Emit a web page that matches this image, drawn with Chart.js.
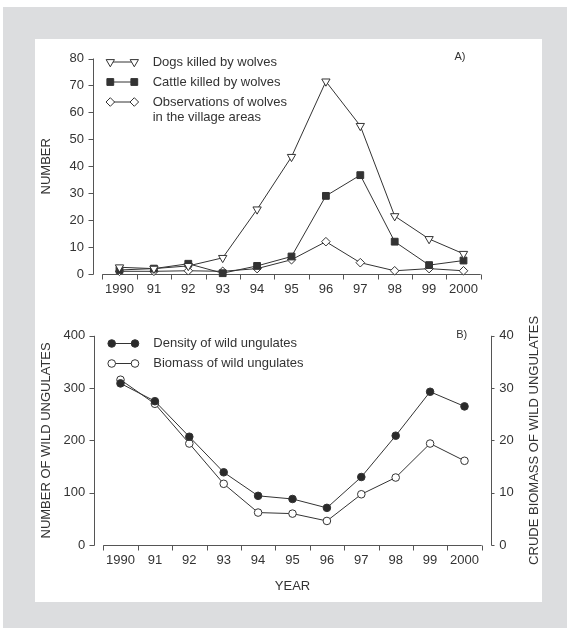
<!DOCTYPE html>
<html>
<head>
<meta charset="utf-8">
<script src="https://cdn.jsdelivr.net/npm/chart.js"></script>
<style>
    body {
        margin: 0;
        width: 567px;
        height: 628px;
        position: relative;
        overflow: hidden;
        background: #fff;
        font-family: "Liberation Sans", Arial, sans-serif;
    }
    .frame {
        position: absolute;
        left: 3px; top: 7px; right: 0; bottom: 0;
        background: #dcdddf;
    }
    .panel {
        position: absolute;
        left: 35px; top: 39px;
        width: 507px; height: 563px;
        background: #fff;
    }
    canvas { position: absolute; left: 0; }
    #top-chart { top: 0; }
    #bottom-chart { top: 310px; }
</style>
</head>
<body>
<div class="frame"></div>
<div class="panel"></div>
<canvas id="top-chart" width="567" height="310"></canvas>
<canvas id="bottom-chart" width="567" height="318"></canvas>

<script>
    // data
    const years = ['1990', '91', '92', '93', '94', '95', '96', '97', '98', '99', '2000'];
    const dogsKilled = [2.5, 2, 3, 6, 24, 43.5, 71.5, 55, 21.5, 13, 7.5];
    const cattleKilled = [1.5, 2, 3.8, 0.3, 3, 6.5, 29, 36.7, 12, 3.3, 5];
    const wolfSightings = [1, 1, 1.2, 1, 2, 5.3, 12, 4.2, 1.2, 2, 1.2];
    const ungulateDensity = [309, 275, 207, 139, 94, 88, 71, 130, 209, 293, 265];
    const ungulateBiomass = [31.6, 27, 19.4, 11.7, 6.2, 6, 4.6, 9.7, 12.9, 19.4, 16.1];
    const wolfLabels = ['Dogs killed by wolves', 'Cattle killed by wolves', 'Observations of wolves\nin the village areas'];
    const ungulateLabels = ['Density of wild ungulates', 'Biomass of wild ungulates'];

    const ink = '#333';
    const axisInk = '#555';
    const fontFamily = '"Liberation Sans", Arial, sans-serif';
    Chart.defaults.font.family = fontFamily;
    Chart.defaults.font.size = 13;
    Chart.defaults.color = ink;

    // detached axis lines + tick marks, drawn from the scales
    const axisLines = {
        id: 'axisLines',
        beforeDatasetsDraw(chart, args, opts) {
            const ctx = chart.ctx;
            const area = chart.chartArea;
            const xs = chart.scales.x;
            const yb = Math.round(area.bottom) + 0.5;
            ctx.save();
            ctx.strokeStyle = axisInk;
            ctx.lineWidth = 1;
            ctx.beginPath();
            ctx.moveTo(area.left, yb);
            ctx.lineTo(area.right, yb);
            for (let i = 0; i <= years.length; i++) {
                const px = Math.round(xs.getPixelForValue(i - 0.5)) + 0.5;
                ctx.moveTo(px, yb);
                ctx.lineTo(px, yb + 5);
            }
            opts.yAxes.forEach(a => {
                const s = chart.scales[a.id];
                const left = a.side === 'left';
                const ax = Math.round(left ? area.left - opts.gap : area.right + opts.gap) + 0.5;
                const dir = left ? -1 : 1;
                ctx.moveTo(ax, s.getPixelForValue(s.max));
                ctx.lineTo(ax, s.getPixelForValue(s.min) + 0.5);
                s.ticks.forEach(t => {
                    const py = Math.round(s.getPixelForValue(t.value)) + 0.5;
                    ctx.moveTo(ax, py);
                    ctx.lineTo(ax + dir * a.tick, py);
                });
            });
            ctx.stroke();

            // right-hand title reads bottom-to-top like the left one
            if (opts.rightTitle) {
                ctx.fillStyle = ink;
                ctx.font = '13px ' + fontFamily;
                ctx.textAlign = 'center';
                ctx.textBaseline = 'middle';
                ctx.translate(opts.rightTitleX, (area.top + area.bottom) / 2);
                ctx.rotate(-Math.PI / 2);
                ctx.fillText(opts.rightTitle, 0, 0);
            }
            ctx.restore();
        }
    };

    // legend with a marker at each end of a short line, plus the panel tag
    const markerLegend = {
        id: 'markerLegend',
        afterDatasetsDraw(chart, args, opts) {
            const ctx = chart.ctx;
            const area = chart.chartArea;
            ctx.save();
            ctx.textBaseline = 'middle';
            ctx.textAlign = 'left';
            let y = area.top + opts.top;
            chart.data.datasets.forEach(ds => {
                const x1 = area.left + opts.marker1;
                const x2 = area.left + opts.marker2;
                ctx.strokeStyle = ds.borderColor;
                ctx.lineWidth = 1;
                ctx.beginPath();
                ctx.moveTo(x1, y);
                ctx.lineTo(x2, y);
                ctx.stroke();
                const style = { pointStyle: ds.pointStyle, rotation: ds.pointRotation || 0, radius: ds.pointRadius, borderWidth: 1 };
                ctx.fillStyle = ds.pointBackgroundColor;
                ctx.strokeStyle = ds.pointBorderColor;
                Chart.helpers.drawPoint(ctx, style, x1, y);
                Chart.helpers.drawPoint(ctx, style, x2, y);
                ctx.fillStyle = ink;
                ctx.font = '13px ' + fontFamily;
                const lines = ds.label.split('\n');
                lines.forEach((t, i) => ctx.fillText(t, area.left + opts.text, y + i * 15));
                y += 20 + (lines.length - 1) * 15;
            });
            ctx.font = '11px ' + fontFamily;
            ctx.textAlign = 'center';
            ctx.fillText(opts.tag, opts.tagX, opts.tagY);
            ctx.restore();
        }
    };

    function series(label, data, style, extra) {
        return Object.assign({
            label: label,
            data: data,
            borderColor: ink,
            borderWidth: 1,
            pointBorderColor: ink,
            pointBorderWidth: 1,
            tension: 0,
            clip: false,
            pointStyle: style
        }, extra);
    }

    const hiddenGrid = { display: false, drawTicks: false };

    new Chart(document.getElementById('top-chart'), {
        type: 'line',
        data: {
            labels: years,
            datasets: [
                series(wolfLabels[0], dogsKilled, 'triangle', { pointRotation: 180, pointRadius: 4.8, pointBackgroundColor: '#fff' }),
                series(wolfLabels[1], cattleKilled, 'rect', { pointRadius: 4.8, pointBackgroundColor: ink }),
                series(wolfLabels[2], wolfSightings, 'rectRot', { pointRadius: 4.3, pointBackgroundColor: '#fff' })
            ]
        },
        options: {
            responsive: false,
            animation: false,
            layout: { padding: { left: 30, top: 58.5, right: 86.3, bottom: 0 } },
            scales: {
                x: {
                    type: 'category',
                    offset: true,
                    grid: hiddenGrid,
                    border: { display: false },
                    ticks: { padding: 8, maxRotation: 0, autoSkip: false },
                    afterFit: s => { s.height = 36; }
                },
                y: {
                    min: 0, max: 80,
                    grid: hiddenGrid,
                    border: { display: false },
                    ticks: { stepSize: 10, padding: 18.3 },
                    title: { display: true, text: 'NUMBER', padding: { top: 9, bottom: 0 } },
                    afterFit: s => { s.width = 72.3; }
                }
            },
            plugins: {
                legend: { display: false },
                tooltip: { enabled: false },
                axisLines: { gap: 9.6, yAxes: [{ id: 'y', side: 'left', tick: 5 }] },
                markerLegend: { top: 3.5, marker1: 8, marker2: 32, text: 50.4, tag: 'A)', tagX: 460, tagY: 56.7 }
            }
        },
        plugins: [axisLines, markerLegend]
    });

    new Chart(document.getElementById('bottom-chart'), {
        type: 'line',
        data: {
            labels: years,
            datasets: [
                series(ungulateLabels[0], ungulateDensity, 'circle', { pointRadius: 3.8, pointBackgroundColor: '#2a2a2a', yAxisID: 'y' }),
                series(ungulateLabels[1], ungulateBiomass, 'circle', { pointRadius: 3.8, pointBackgroundColor: '#fff', yAxisID: 'y1' })
            ]
        },
        options: {
            responsive: false,
            animation: false,
            layout: { padding: { left: 30, top: 20, right: 14, bottom: 0 } },
            scales: {
                x: {
                    type: 'category',
                    offset: true,
                    grid: hiddenGrid,
                    border: { display: false },
                    ticks: { padding: 8, maxRotation: 0, autoSkip: false },
                    title: { display: true, text: 'YEAR', padding: { top: 0, bottom: 33.5 } },
                    afterFit: s => { s.height = 83; }
                },
                y: {
                    position: 'left',
                    min: 0, max: 400,
                    grid: hiddenGrid,
                    border: { display: false },
                    ticks: { stepSize: 100, padding: 18 },
                    title: { display: true, text: 'NUMBER OF WILD UNGULATES', padding: { top: 9, bottom: 0 } },
                    afterFit: s => { s.width = 73.3; }
                },
                y1: {
                    position: 'right',
                    min: 0, max: 40,
                    grid: hiddenGrid,
                    border: { display: false },
                    ticks: { stepSize: 10, padding: 17.5 },
                    afterFit: s => { s.width = 71.3; }
                }
            },
            plugins: {
                legend: { display: false },
                tooltip: { enabled: false },
                axisLines: {
                    gap: 9.5,
                    yAxes: [{ id: 'y', side: 'left', tick: 5 }, { id: 'y1', side: 'right', tick: 3 }],
                    rightTitle: 'CRUDE BIOMASS OF WILD UNGULATES',
                    rightTitleX: 534.3
                },
                markerLegend: { top: 7.7, marker1: 8.4, marker2: 31.7, text: 50, tag: 'B)', tagX: 461.7, tagY: 25 }
            }
        },
        plugins: [axisLines, markerLegend]
    });
</script>
</body>
</html>
